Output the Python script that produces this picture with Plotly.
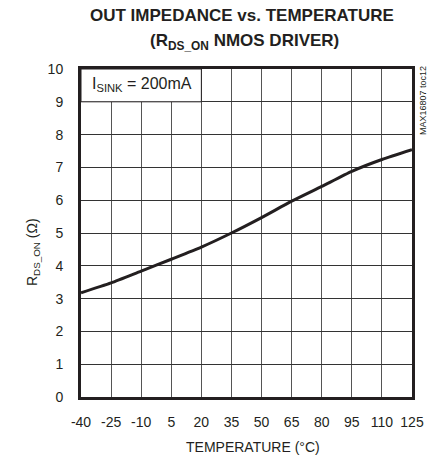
import plotly.graph_objects as go

temperature = [-40, -25, -10, 5, 20, 35, 50, 65, 80, 95, 110, 125]
rds_on = [3.18, 3.48, 3.84, 4.20, 4.57, 5.00, 5.47, 5.97, 6.42, 6.88, 7.24, 7.54]
x_ticks = [-40, -25, -10, 5, 20, 35, 50, 65, 80, 95, 110, 125]
y_ticks = [0, 1, 2, 3, 4, 5, 6, 7, 8, 9, 10]

FONT = "Liberation Sans, Arial, sans-serif"
TXT = "#231f20"

W, H = 440, 462
PL, PR, PT, PB = 81, 412, 69, 397

fig = go.Figure()
fig.add_trace(go.Scatter(x=temperature, y=rds_on, mode="lines",
                         line=dict(color="#231f20", width=3, shape="spline", smoothing=0.6),
                         hoverinfo="skip"))

# white label box covering the grid in the top-left cell block
fig.add_shape(type="rect", xref="x", yref="y", x0=x_ticks[0], x1=x_ticks[4],
              y0=y_ticks[9], y1=y_ticks[10], fillcolor="white",
              line=dict(color="#231f20", width=1), layer="between")

fig.update_layout(
    width=W, height=H,
    margin=dict(l=PL, r=W - PR, t=PT, b=H - PB, autoexpand=False),
    paper_bgcolor="white", plot_bgcolor="white",
    showlegend=False,
    font=dict(family=FONT, size=14, color=TXT),
)
fig.update_xaxes(range=[-40, 125], tickvals=x_ticks, ticktext=[str(v) for v in x_ticks],
                 showgrid=True, gridcolor="#555555", gridwidth=1,
                 showline=True, linecolor="#231f20", linewidth=3, mirror=True,
                 zeroline=False, ticks="", ticklabelstandoff=10,
                 tickfont=dict(family=FONT, size=14, color=TXT))
fig.update_yaxes(range=[0, 10], tickvals=y_ticks,
                 showgrid=True, gridcolor="#333333", gridwidth=1,
                 showline=True, linecolor="#231f20", linewidth=3, mirror=True,
                 zeroline=False, ticks="", ticklabelstandoff=12,
                 tickfont=dict(family=FONT, size=14, color=TXT))

# (text, x_px, y_px, size, angle)
labels = [
    ("<b>OUT IMPEDANCE vs. TEMPERATURE</b>", 242, 16, 17, 0),
    ("<b>(R<sub>DS_ON</sub> NMOS DRIVER)</b>", 244, 42, 17, 0),
    ("TEMPERATURE (°C)", 253, 447, 14, 0),
    ("R<sub>DS_ON</sub> (Ω)", 33, 252, 14, -90),
    ("MAX16807 toc12", 423, 101, 9, -90),
    ("I<sub>SINK</sub> = 200mA", 142, 84, 16, 0),
]
for text, px, py, size, ang in labels:
    fig.add_annotation(text=text, xref="paper", yref="paper",
                       x=(px - PL) / (PR - PL), y=(PB - py) / (PB - PT),
                       showarrow=False, textangle=ang,
                       font=dict(family=FONT, color=TXT, size=size),
                       xanchor="center", yanchor="middle")

fig.write_html("out.html", config={"displayModeBar": False, "staticPlot": True},
               post_script="document.body.style.margin='0';")
